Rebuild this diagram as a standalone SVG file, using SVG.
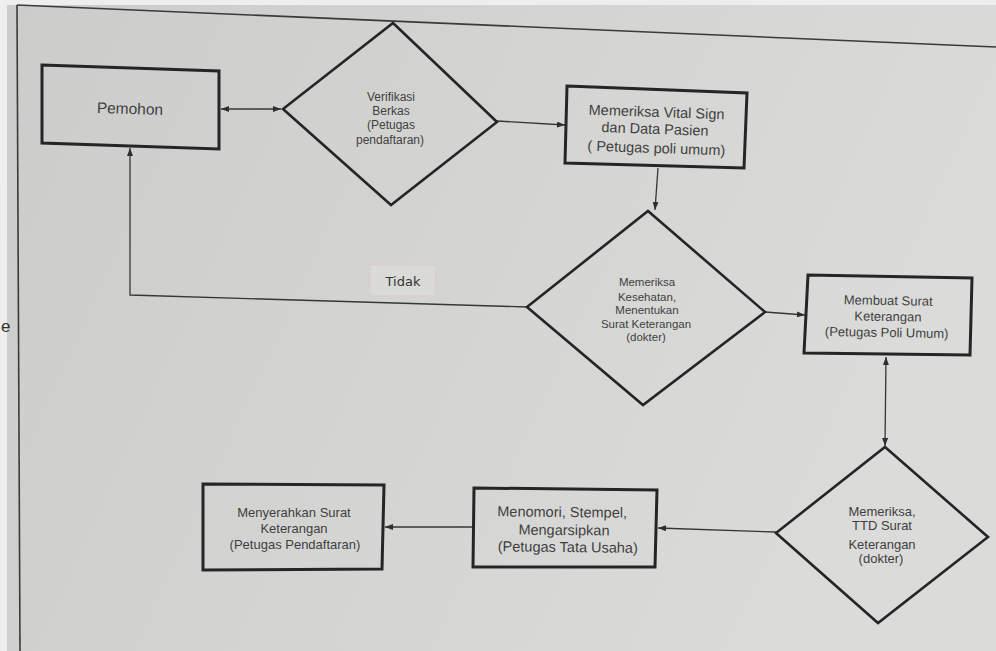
<svg xmlns="http://www.w3.org/2000/svg" width="996" height="651" viewBox="0 0 996 651">
<defs>
<linearGradient id="bg" x1="0" y1="0" x2="1" y2="0.3">
<stop offset="0" stop-color="#cccdcb"/>
<stop offset="1" stop-color="#dbdcda"/>
</linearGradient>
<marker id="ah" viewBox="0 0 8 6" refX="8" refY="3" markerWidth="8" markerHeight="6" markerUnits="userSpaceOnUse" orient="auto-start-reverse">
<path d="M0,0 L8,3 L0,6 z" fill="#2e2e2e"/>
</marker>
</defs>
<style>
.box{fill:none;stroke:#252525;stroke-width:3;stroke-linejoin:miter}
.dia{fill:none;stroke:#252525;stroke-width:2.6;stroke-linejoin:miter}
.con{fill:none;stroke:#363636;stroke-width:1.3}
.page{fill:none;stroke:#3a3a3a;stroke-width:1.6}
.t{font-family:"Liberation Sans",Arial,sans-serif;fill:#3f3f3f;text-anchor:middle}
</style>

<rect x="0" y="0" width="996" height="651" fill="#eeeeee"/>
<rect x="7" y="5" width="989" height="646" fill="url(#bg)"/>
<g id="page">
<line class="page" x1="17" y1="5" x2="996" y2="47"/>
<line class="page" x1="17" y1="5" x2="20" y2="651"/>
<text x="1" y="332" font-family="Liberation Sans, Arial, sans-serif" font-size="17" fill="#333">e</text>
</g>

<g id="connectors">
<line class="con" x1="221" y1="109" x2="281" y2="109" marker-start="url(#ah)" marker-end="url(#ah)"/>
<line class="con" x1="497" y1="121" x2="565" y2="125" marker-end="url(#ah)"/>
<line class="con" x1="658" y1="168" x2="655" y2="210" marker-end="url(#ah)"/>
<polyline class="con" points="527,307 130,295 130,148" marker-end="url(#ah)"/>
<line class="con" x1="765" y1="312" x2="805" y2="315" marker-end="url(#ah)"/>
<line class="con" x1="886" y1="357" x2="885" y2="446" marker-start="url(#ah)" marker-end="url(#ah)"/>
<line class="con" x1="776" y1="532" x2="658" y2="528" marker-end="url(#ah)"/>
<line class="con" x1="473" y1="527" x2="385" y2="527" marker-end="url(#ah)"/>
</g>

<g id="label-tidak">
<rect x="370" y="265" width="66" height="31" fill="#dadad8" stroke="#dcc9c9" stroke-width="1"/>
<text x="403" y="286" font-family="DejaVu Sans, sans-serif" font-size="13" fill="#333" text-anchor="middle">Tidak</text>
</g>

<g id="pemohon">
<polygon class="box" points="42,65 219,71 219,149 42,143"/>
<text class="t" font-size="15.5" x="130" y="114" transform="rotate(1.9 130 108)">Pemohon</text>
</g>

<g id="verifikasi">
<polygon class="dia" points="393,23 497,122 391,205 283,109"/>
<g class="t" font-size="12">
<text x="391" y="101">Verifikasi</text>
<text x="391" y="115">Berkas</text>
<text x="391" y="129">(Petugas</text>
<text x="390" y="144">pendaftaran)</text>
</g>
</g>

<g id="vital-sign">
<polygon class="box" points="567,86 747,93 744,168 565,163"/>
<g class="t" font-size="14.5" transform="rotate(2 656 130)">
<text x="656" y="117">Memeriksa Vital Sign</text>
<text x="655" y="134">dan Data Pasien</text>
<text x="657" y="153">( Petugas poli umum)</text>
</g>
</g>

<g id="pemeriksaan">
<polygon class="dia" points="648,211 765,312 643,405 527,307"/>
<g class="t" font-size="11.5">
<text x="647" y="286">Memeriksa</text>
<text x="647" y="301">Kesehatan,</text>
<text x="647" y="314">Menentukan</text>
<text x="646" y="328">Surat Keterangan</text>
<text x="646" y="341">(dokter)</text>
</g>
</g>

<g id="membuat-surat">
<polygon class="box" points="808,275 972,278 970,355 804,353"/>
<g class="t" font-size="13" transform="rotate(1 888 316)">
<text x="888" y="305">Membuat Surat</text>
<text x="888" y="321">Keterangan</text>
<text x="887" y="337">(Petugas Poli Umum)</text>
</g>
</g>

<g id="ttd">
<polygon class="dia" points="885,447 988,537 878,623 776,533"/>
<g class="t" font-size="13">
<text x="882" y="516">Memeriksa,</text>
<text x="882" y="530">TTD Surat</text>
<text x="882" y="549">Keterangan</text>
<text x="881" y="563">(dokter)</text>
</g>
</g>

<g id="menomori">
<polygon class="box" points="474,488 657,490 655,567 473,567"/>
<g class="t" font-size="14.5" transform="rotate(0.6 565 530)">
<text x="562" y="517">Menomori, Stempel,</text>
<text x="564" y="535">Mengarsipkan</text>
<text x="568" y="552">(Petugas Tata Usaha)</text>
</g>
</g>

<g id="menyerahkan">
<polygon class="box" points="203,484 384,485 382,569 203,570"/>
<g class="t" font-size="13">
<text x="294" y="517">Menyerahkan Surat</text>
<text x="294" y="533">Keterangan</text>
<text x="295" y="549">(Petugas Pendaftaran)</text>
</g>
</g>
</svg>
